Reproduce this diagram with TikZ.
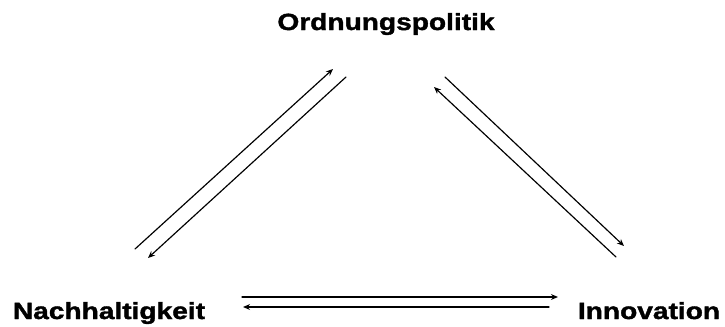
\documentclass[tikz,border=0pt]{standalone}
\usepackage{fontspec}
\setmainfont{Liberation Sans}
\newfontfamily\labelfont[FakeStretch=1.2, FakeBold=1.6]{Liberation Sans Bold}
\usetikzlibrary{arrows.meta}
\begin{document}
\begin{tikzpicture}[x=0.03cm, y=-0.03cm, line cap=round,
    term/.style={inner sep=0pt, outer sep=0pt, anchor=base,
      font=\labelfont\fontsize{20}{24}\selectfont},
    link/.style={line width=1pt, -{Stealth[length=6pt, width=5pt]}}]
  \useasboundingbox (0,0) rectangle (725,326);
  \node[term] (ord) at (386,30) {Ordnungspolitik};
  \node[term] (nach) at (109,319) {Nachhaltigkeit};
  \node[term] (inno) at (649,319) {Innovation};
  % links Ordnungspolitik - Nachhaltigkeit
  \coordinate (onA) at (135,249);
  \coordinate (onB) at (333,69);
  \coordinate (onC) at (346,77);
  \coordinate (onD) at (148,258);
  \draw[link] (onA) -- (onB);
  \draw[link] (onC) -- (onD);
  % links Ordnungspolitik - Innovation
  \coordinate (oiA) at (445,77);
  \coordinate (oiB) at (624,246);
  \coordinate (oiC) at (616,257);
  \coordinate (oiD) at (434,87);
  \draw[link] (oiA) -- (oiB);
  \draw[link] (oiC) -- (oiD);
  % links Nachhaltigkeit - Innovation
  \coordinate (niA) at (242,297);
  \coordinate (niB) at (558,297);
  \coordinate (niC) at (549,307);
  \coordinate (niD) at (243,307);
  \draw[link] (niA) -- (niB);
  \draw[link] (niC) -- (niD);
\end{tikzpicture}
\end{document}
